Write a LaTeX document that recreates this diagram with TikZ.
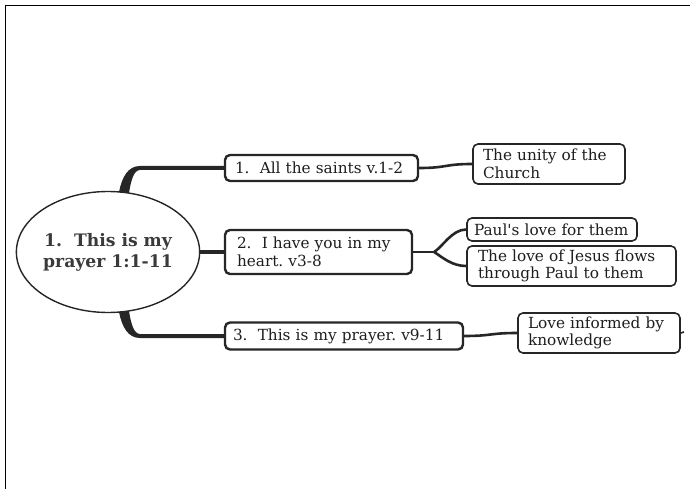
\documentclass[tikz,border=0pt]{standalone}
\usepackage{fontspec}
\setmainfont{DejaVu Serif}
\usetikzlibrary{calc,shapes.geometric}
\definecolor{brcol}{HTML}{262626}
\definecolor{boxcol}{HTML}{262626}
\definecolor{txtcol}{HTML}{1E1E1E}
\definecolor{rootcol}{HTML}{3A3A3A}
\frenchspacing
\begin{document}
\begin{tikzpicture}[x=1pt,y=-1pt,
  mainbox/.style={draw=boxcol, line width=2.4pt, rounded corners=5pt, fill=white,
    align=left, inner ysep=0pt, font=\fontsize{15.3}{17.5}\selectfont\frenchspacing, text=txtcol},
  subbox/.style={draw=boxcol, line width=1.6pt, rounded corners=5pt, fill=white,
    align=left, inner ysep=0pt, font=\fontsize{15.3}{17.5}\selectfont\frenchspacing, text=txtcol},
  sub/.style={draw=brcol, line width=2.6pt},
  rootnode/.style={ellipse, draw=boxcol, line width=1.4pt, fill=white,
    minimum width=182pt, minimum height=121pt, inner sep=0pt,
    font=\fontsize{17.2}{21}\selectfont\bfseries, text=rootcol, align=center}]
\useasboundingbox (0,0) rectangle (690,489);
\draw[line width=1.2pt, black] (690,5.5) -- (5.5,5.5) -- (5.5,489);

\node[rootnode] (root) at (108,252) {1.\ \ This is my\\prayer 1:1-11};

\node[mainbox, inner xsep=10pt, text width=173pt, minimum height=26pt] (b1) at (321.5,168) {1.\ \ All the saints v.1-2};
\node[mainbox, inner xsep=12pt, text width=163pt, minimum height=44pt] (b2) at (318.5,252) {2.\ \ I have you in my\\heart. v3-8};
\node[mainbox, inner xsep=8pt, text width=222pt, minimum height=27pt] (b3) at (344,336) {3.\ \ This is my prayer. v9-11};

\node[subbox, inner xsep=10pt, text width=132pt, minimum height=40pt] (c1) at (549,164) {The unity of the\\Church};
\node[subbox, inner xsep=7pt, text width=156pt, minimum height=23pt] (c2a) at (552,229.5) {Paul\textquotesingle s love for them};
\node[subbox, inner xsep=11pt, text width=187pt, minimum height=40pt] (c2b) at (571.5,266) {The love of Jesus flows\\through Paul to them};
\node[subbox, inner xsep=10pt, text width=142pt, minimum height=40pt] (c3) at (599,333) {Love informed by\\knowledge};
\coordinate (stub) at (684,332);

% main branches (tapered)
\fill[brcol] ($(root.center)+(11,-60)$) .. controls ($(root.center)+(14,-75)$) and ($(root.center)+(20,-86)$) .. ($(root.center)+(32,-86)$)
  -- ($(b1.west)+(0,-2)$) -- ($(b1.west)+(0,2)$) -- ($(root.center)+(32,-82)$)
  .. controls ($(root.center)+(26,-82)$) and ($(root.center)+(23,-72)$) .. ($(root.center)+(21,-59)$) -- cycle;
\draw[brcol, line width=4pt] (root.east) -- (b2.west);
\fill[brcol] ($(root.center)+(11,60)$) .. controls ($(root.center)+(14,75)$) and ($(root.center)+(20,86)$) .. ($(root.center)+(32,86)$)
  -- ($(b3.west)+(0,2)$) -- ($(b3.west)+(0,-2)$) -- ($(root.center)+(32,82)$)
  .. controls ($(root.center)+(26,82)$) and ($(root.center)+(23,72)$) .. ($(root.center)+(21,59)$) -- cycle;

% sub branches
\draw[sub] (b1.east) .. controls +(28,0) and +(-28,0) .. (c1.west);
\coordinate (fork) at ($(b2.east)+(21,0)$);
\draw[sub] (b2.east) -- (fork);
\draw[sub] (fork) .. controls +(9,-6) and +(-14,0) .. (c2a.west);
\draw[sub] (fork) .. controls +(9,6) and +(-14,0) .. (c2b.west);
\draw[sub] (b3.east) .. controls +(28,0) and +(-28,0) .. (c3.west);
\draw[brcol, line width=1.6pt] (c3.east) -- (stub);
\end{tikzpicture}
\end{document}
